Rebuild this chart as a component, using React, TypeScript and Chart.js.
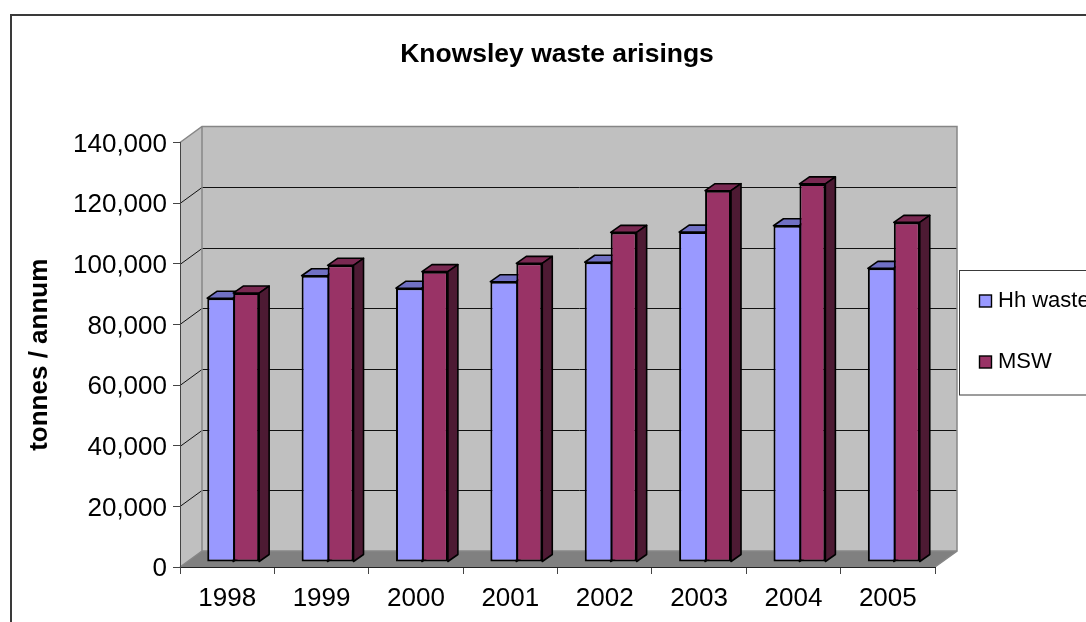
import React, { useEffect, useRef } from "react";
import { Chart, registerables } from "chart.js";

Chart.register(...registerables);

const categories = ["1998", "1999", "2000", "2001", "2002", "2003", "2004", "2005"];
const hhWaste = [87000, 94400, 90300, 92450, 98850, 108800, 110900, 96850];
const msw = [88700, 97850, 95750, 98500, 108700, 122450, 124700, 112000];
const seriesNames = ["Hh waste", "MSW"];
const seriesFront = ["#9999FF", "#993366"];
const seriesTop = ["#7070C4", "#7A2952"];
const seriesSide = ["#4D4D80", "#4D1A33"];

const FONT = '"Liberation Sans", Arial, sans-serif';
const CANVAS_W = 1114;
const CANVAS_H = 640;
const DEPTH_X = 22;
const DEPTH_Y = 16;
const BAR_SHIFT_X = 6;
const BAR_SHIFT_Y = -5;
const FACE_X = 10;
const FACE_Y = 7;
const TITLE_SIZE = 26.5;

function poly(ctx: CanvasRenderingContext2D, pts: number[][], fill: string | null, stroke: string | null, lw = 1) {
  ctx.beginPath();
  pts.forEach((p, i) => (i ? ctx.lineTo(p[0], p[1]) : ctx.moveTo(p[0], p[1])));
  ctx.closePath();
  if (fill) {
    ctx.fillStyle = fill;
    ctx.fill();
  }
  if (stroke) {
    ctx.strokeStyle = stroke;
    ctx.lineWidth = lw;
    ctx.stroke();
  }
}

const wallsPlugin = {
  id: "walls",
  beforeDraw(chart: any) {
    const { ctx, chartArea: a, scales } = chart;
    const { left: l, right: r, top: t, bottom: b } = a;
    const dx = DEPTH_X;
    const dy = DEPTH_Y;
    ctx.save();
    ctx.fillStyle = "#FFFFFF";
    ctx.fillRect(0, 0, chart.width, chart.height);
    ctx.strokeStyle = "#3A3A3A";
    ctx.lineWidth = 2;
    ctx.strokeRect(11, 15, 1400, 1400);

    poly(ctx, [[l + dx, t - dy], [r + dx, t - dy], [r + dx, b - dy], [l + dx, b - dy]], "#C0C0C0", null);
    poly(ctx, [[l, t], [l + dx, t - dy], [l + dx, b - dy], [l, b]], "#C0C0C0", null);

    ctx.strokeStyle = "#111111";
    ctx.lineWidth = 1;
    (scales.y.ticks as any[]).forEach((tk) => {
      if (tk.value === 0 || tk.value === 140000) return;
      const y = Math.round(scales.y.getPixelForValue(tk.value));
      ctx.beginPath();
      ctx.moveTo(l, y + 0.5);
      ctx.lineTo(l + dx, y - dy + 0.5);
      ctx.lineTo(r + dx, y - dy + 0.5);
      ctx.stroke();
    });

    poly(ctx, [[l, b], [l + dx, b - dy], [r + dx, b - dy], [r, b]], "#808080", null);

    ctx.strokeStyle = "#868686";
    ctx.lineWidth = 1.5;
    ctx.beginPath();
    ctx.moveTo(l, t);
    ctx.lineTo(l + dx, t - dy);
    ctx.lineTo(r + dx, t - dy);
    ctx.lineTo(r + dx, b - dy);
    ctx.lineTo(r, b);
    ctx.moveTo(l + dx, t - dy);
    ctx.lineTo(l + dx, b - dy);
    ctx.lineTo(r + dx, b - dy);
    ctx.moveTo(l + dx, b - dy);
    ctx.lineTo(l, b);
    ctx.stroke();
    ctx.restore();
  },
  beforeDatasetsDraw(chart: any) {
    const { ctx } = chart;
    ctx.save();
    ctx.translate(BAR_SHIFT_X, BAR_SHIFT_Y);
    ctx.lineJoin = "round";
    categories.forEach((_, i) => {
      [0, 1].forEach((ds) => {
        const el = chart.getDatasetMeta(ds).data[i];
        const x0 = el.x - el.width / 2;
        const x1 = el.x + el.width / 2;
        poly(ctx, [[x0, el.y], [x0 + FACE_X, el.y - FACE_Y], [x1 + FACE_X, el.y - FACE_Y], [x1, el.y]], seriesTop[ds], "#000000", 1.6);
        poly(ctx, [[x1, el.y], [x1 + FACE_X, el.y - FACE_Y], [x1 + FACE_X, el.base - FACE_Y], [x1, el.base]], seriesSide[ds], "#000000", 1.6);
      });
    });
  },
  afterDatasetsDraw(chart: any) {
    chart.ctx.restore();
  },
  afterDraw(chart: any) {
    const { ctx } = chart;
    ctx.save();
    ctx.fillStyle = "#FFFFFF";
    ctx.strokeStyle = "#3A3A3A";
    ctx.lineWidth = 1;
    ctx.fillRect(959.5, 270.5, 400, 124.5);
    ctx.strokeRect(959.5, 270.5, 400, 124.5);
    const rows = [301, 362];
    chart.data.datasets.forEach((d: any, i: number) => {
      const y = rows[i];
      ctx.fillStyle = d.backgroundColor;
      ctx.fillRect(979.5, y - 6, 12, 12);
      ctx.strokeStyle = "#000000";
      ctx.lineWidth = 1.4;
      ctx.strokeRect(979.5, y - 6, 12, 12);
      ctx.fillStyle = "#000000";
      ctx.font = `22px ${FONT}`;
      ctx.textBaseline = "middle";
      ctx.textAlign = "left";
      ctx.fillText(d.label, 998, y - 0.5);
    });
    ctx.restore();
  },
};

export default function App() {
  const ref = useRef<HTMLCanvasElement | null>(null);
  useEffect(() => {
    const tickFont = { family: FONT, size: 26 };
    const titleLh = TITLE_SIZE * 1.2;
    const chart = new Chart(ref.current as HTMLCanvasElement, {
      type: "bar",
      data: {
        labels: categories,
        datasets: [
          {
            label: seriesNames[0],
            data: hhWaste,
            backgroundColor: seriesFront[0],
            borderColor: "#000000",
            borderWidth: { left: 2, top: 2, bottom: 2, right: 0 },
            borderSkipped: false,
            clip: false,
          },
          {
            label: seriesNames[1],
            data: msw,
            backgroundColor: seriesFront[1],
            borderColor: "#000000",
            borderWidth: 2,
            borderSkipped: false,
            clip: false,
          },
        ] as any,
      },
      plugins: [wallsPlugin],
      options: {
        animation: false,
        responsive: false,
        devicePixelRatio: 1,
        layout: { padding: 0 },
        datasets: { bar: { barPercentage: 1, categoryPercentage: 0.55 } },
        plugins: {
          legend: { display: false },
          tooltip: { enabled: false },
          title: {
            display: true,
            text: "Knowsley waste arisings",
            color: "#000000",
            font: { family: FONT, size: TITLE_SIZE, weight: "bold" },
            padding: { top: 55 - titleLh / 2, bottom: 142.5 - 55 - titleLh / 2 },
          },
        },
        scales: {
          x: {
            offset: true,
            grid: { display: true, offset: true, drawOnChartArea: false, drawTicks: true, tickLength: 7, color: "#444444" },
            border: { display: true, color: "#222222", width: 1 },
            ticks: { color: "#000000", font: tickFont, padding: 9, maxRotation: 0, autoSkip: false },
            afterFit(s: any) {
              s.height = CANVAS_H - 567;
            },
          },
          y: {
            min: 0,
            max: 140000,
            grid: { display: true, drawOnChartArea: false, drawTicks: true, tickLength: 7, color: "#444444" },
            border: { display: true, color: "#444444", width: 1 },
            ticks: {
              stepSize: 20000,
              color: "#000000",
              font: tickFont,
              padding: 6,
              labelOffset: 2,
              callback: (v: any) => Number(v).toLocaleString("en-US"),
            },
            title: {
              display: true,
              text: "tonnes / annum",
              color: "#000000",
              font: { family: FONT, size: 26, weight: "bold" },
              padding: { top: 24, bottom: 0 },
            },
            afterFit(s: any) {
              s.width = 180;
            },
          },
          y2: {
            type: "linear",
            position: "right",
            display: true,
            grid: { display: false },
            border: { display: false },
            ticks: { display: false },
            afterFit(s: any) {
              s.width = CANVAS_W - 935;
            },
          },
        },
      } as any,
    });
    return () => chart.destroy();
  }, []);
  return (
    <div style={{ position: "fixed", left: 0, top: 0, width: 1086, height: 622, overflow: "hidden" }}>
      <canvas ref={ref} width={CANVAS_W} height={CANVAS_H} style={{ display: "block", width: CANVAS_W, height: CANVAS_H }} />
    </div>
  );
}
